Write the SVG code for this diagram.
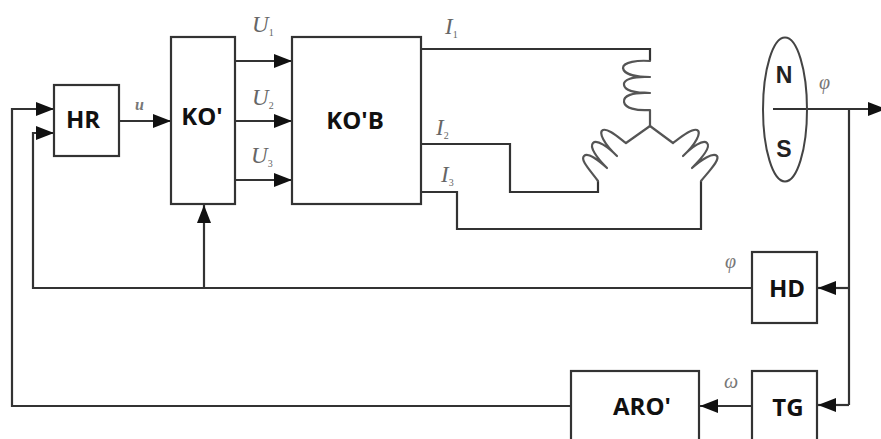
<svg xmlns="http://www.w3.org/2000/svg" width="881" height="439" viewBox="0 0 881 439">
<defs>
<marker id="a" markerUnits="userSpaceOnUse" markerWidth="19" markerHeight="14" refX="18" refY="7" orient="auto"><path d="M0 0L18 7L0 14Z" fill="#111"/></marker>
</defs>
<style>
.b{fill:#fff;stroke:#333;stroke-width:2.2}
.w{fill:none;stroke:#333;stroke-width:2.2;stroke-linejoin:miter}
.c{fill:none;stroke:#555;stroke-width:2.2;stroke-linecap:round;stroke-linejoin:round}
.ar{marker-end:url(#a)}
.t{font-family:"Open Sans","Liberation Sans",sans-serif;font-weight:700;font-size:24px;fill:#111;text-anchor:middle}
.m{font-family:"Liberation Sans",sans-serif;font-weight:700;font-size:23px;fill:#222;text-anchor:middle}
.v{font-family:"Liberation Serif",serif;font-style:italic;font-size:23px;fill:#666}
.s{font-family:"Liberation Serif",serif;font-style:normal;font-size:10px;fill:#666}
.g{font-family:"Liberation Serif",serif;font-style:italic;font-size:20px;fill:#777}
.u{font-size:16px;font-weight:700}
</style>
<rect width="881" height="439" fill="#fff"/>
<g id="connectors">
<path class="w ar" d="M571 406H12V109H54"/>
<path class="w ar" d="M752 288H33V133H54"/>
<path class="w ar" d="M204 288V205"/>
<path class="w ar" d="M119 121H171"/>
<path class="w ar" d="M235 61H292"/>
<path class="w ar" d="M235 121H292"/>
<path class="w ar" d="M235 180H292"/>
<path class="w" d="M421 49H650V61"/>
<path class="w" d="M421 144H510V192H598V181"/>
<path class="w" d="M421 192H457V229H701V181"/>
<path class="w ar" d="M773 109H886"/>
<path class="w" d="M849 109V405"/>
<path class="w ar" d="M849 288H818"/>
<path class="w ar" d="M849 405H818"/>
<path class="w ar" d="M752 406H700"/>
</g>
<g id="motor-windings">
<path class="c" d="M650 61C638 60 623 62 623 68C624 75 638 77 650 77C632 76 623 80 624 85C625 91 636 93 650 93C632 92 623 96 624 102C625 108 636 111 650 110V126"/>
<path class="c" d="M650 126L626 143C618 137 608 128 603 130C598 132 604 144 617 156C608 147 597 139 593 143C589 147 597 158 607 168C598 160 588 152 584 156C580 160 590 170 598 181"/>
<path class="c" d="M650 126L673 143C681 137 692 128 697 130C702 132 696 144 683 156C692 147 703 139 707 143C711 147 702 158 692 168C701 160 713 152 717 156C720 160 710 170 701 181"/>
</g>
<g id="node-rotor">
<ellipse cx="785" cy="109.500" rx="22" ry="72" fill="none" stroke="#444" stroke-width="2"/>
<text class="m" x="784" y="83">N</text>
<text class="m" x="784" y="157">S</text>
<text class="g" x="819" y="89">φ</text>
</g>
<g id="node-HR"><rect class="b" x="54" y="85" width="65" height="71"/><text class="t" x="83" y="128">HR</text></g>
<g id="node-KO1"><rect class="b" x="171" y="37" width="64" height="167"/><text class="t" x="202" y="125">KO'</text></g>
<g id="node-KOB"><rect class="b" x="292" y="37" width="129" height="167"/><text class="t" x="355" y="129">KO'B</text></g>
<g id="node-HD"><rect class="b" x="752" y="252" width="65" height="71"/><text class="t" x="787" y="297">HD</text></g>
<g id="node-TG"><rect class="b" x="752" y="371" width="65" height="80"/><text class="t" x="788" y="416">TG</text></g>
<g id="node-ARO"><rect class="b" x="571" y="371" width="128" height="80"/><text class="t" x="642" y="415">ARO'</text></g>
<g id="labels">
<text class="g u" x="135" y="110">u</text>
<text class="v" x="252" y="32">U<tspan class="s" dy="4">1</tspan></text>
<text class="v" x="252" y="105">U<tspan class="s" dy="4">2</tspan></text>
<text class="v" x="251" y="163">U<tspan class="s" dy="4">3</tspan></text>
<text class="v" x="445" y="34">I<tspan class="s" dy="4">1</tspan></text>
<text class="v" x="436" y="135">I<tspan class="s" dy="4">2</tspan></text>
<text class="v" x="441" y="182">I<tspan class="s" dy="4">3</tspan></text>
<text class="g" x="725" y="268">φ</text>
<text class="g" x="724" y="388">ω</text>
</g>
</svg>
